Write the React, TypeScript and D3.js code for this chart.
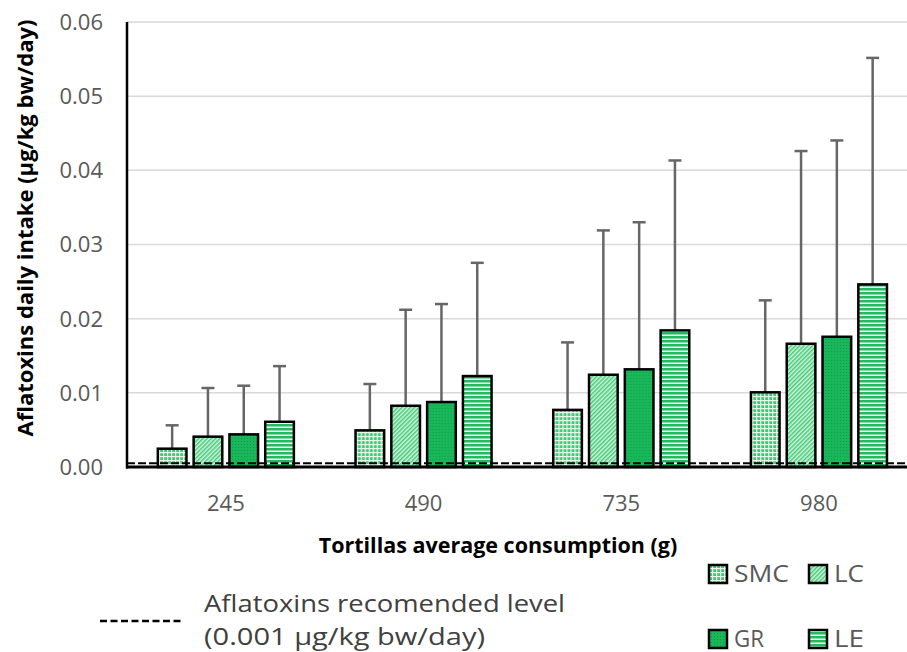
import * as d3 from 'd3';

const categories = ['245', '490', '735', '980'];
const seriesNames = ['SMC', 'LC', 'GR', 'LE'];

// mean intake per consumption level
const smc = [0.00247, 0.00494, 0.0077, 0.01007];
const lc = [0.00409, 0.00826, 0.01244, 0.01662];
const gr = [0.0044, 0.00876, 0.01317, 0.01756];
const le = [0.0061, 0.01226, 0.01842, 0.02462];

// upper error (plus) values
const smcErr = [0.00315, 0.00625, 0.0091, 0.0124];
const lcErr = [0.00656, 0.01294, 0.01946, 0.02598];
const grErr = [0.00656, 0.01321, 0.01983, 0.02647];
const leErr = [0.0075, 0.01527, 0.02291, 0.03054];

const yTicks = [0, 0.01, 0.02, 0.03, 0.04, 0.05, 0.06];
const limitLine = 0.0005;

const W = 907;
const H = 652;
const margin = { left: 127, top: 22, bottom: 467 };

const values = [smc, lc, gr, le];
const errors = [smcErr, lcErr, grErr, leErr];
const patternIds = ['pSMC', 'pLC', 'pGR', 'pLE'];

const font = "'Open Sans', sans-serif";

export default function App() {
  const x = d3.scaleBand().domain(categories).range([margin.left, margin.left + 4 * 197.7]);
  const inner = d3
    .scaleBand()
    .domain(seriesNames)
    .range([(x.bandwidth() - 143.2) / 2, (x.bandwidth() + 143.2) / 2])
    .paddingInner(0.2)
    .paddingOuter(0.1);
  const y = d3.scaleLinear().domain([0, 0.06]).range([margin.bottom, margin.top]);

  const fmt = d3.format('.2f');

  return (
    <svg width={W} height={H} style={{ position: 'absolute', left: 0, top: 0, background: '#fff' }}>
      <defs>
        <pattern id="pSMC" width="4" height="4" patternUnits="userSpaceOnUse">
          <rect width="4" height="4" fill="#3ec873" />
          <rect width="4" height="1.2" fill="#e8f9ee" />
          <rect width="1.2" height="4" fill="#e8f9ee" />
        </pattern>
        <pattern id="pLC" width="3" height="3" patternUnits="userSpaceOnUse" patternTransform="rotate(45)">
          <rect width="3" height="3" fill="#d3f4df" />
          <rect width="1.5" height="3" fill="#45ca78" />
        </pattern>
        <pattern id="pGR" width="3" height="3" patternUnits="userSpaceOnUse">
          <rect width="3" height="3" fill="#19b759" />
          <rect width="1" height="1" fill="#0f9d49" />
        </pattern>
        <pattern id="pLE" width="4" height="4" patternUnits="userSpaceOnUse">
          <rect width="4" height="4" fill="#22bb5e" />
          <rect y="2.5" width="4" height="1.5" fill="#f2fcf5" />
        </pattern>
      </defs>

      {/* gridlines */}
      {yTicks.slice(1).map((t) => (
        <line key={t} x1={margin.left} x2={W} y1={y(t)} y2={y(t)} stroke="#d9d9d9" strokeWidth={1.5} />
      ))}

      {/* y tick labels */}
      {yTicks.map((t) => (
        <text
          key={t}
          x={103}
          y={y(t)}
          dy="0.36em"
          textAnchor="end"
          fontFamily={font}
          fontSize={22}
          fill="#595959"
        >
          {fmt(t)}
        </text>
      ))}

      {/* bars and error bars */}
      {categories.map((c, ci) => (
        <g key={c} transform={`translate(${x(c)},0)`}>
          {seriesNames.map((s, si) => {
            const v = values[si][ci];
            const e = errors[si][ci];
            const bx = inner(s)!;
            const cx = bx + inner.bandwidth() / 2;
            return (
              <g key={s}>
                <line x1={cx} x2={cx} y1={y(v)} y2={y(v + e)} stroke="#666" strokeWidth={2.5} />
                <line x1={cx - 6.5} x2={cx + 6.5} y1={y(v + e)} y2={y(v + e)} stroke="#666" strokeWidth={2.5} />
                <rect
                  x={bx}
                  y={y(v)}
                  width={inner.bandwidth()}
                  height={y(0) - y(v)}
                  fill={`url(#${patternIds[si]})`}
                  stroke="#000"
                  strokeWidth={2.5}
                />
              </g>
            );
          })}
        </g>
      ))}

      {/* recommended level */}
      <line
        x1={margin.left}
        x2={W}
        y1={y(limitLine)}
        y2={y(limitLine)}
        stroke="#000"
        strokeWidth={2}
        strokeDasharray="8 3"
      />

      {/* axes */}
      <line x1={margin.left} x2={margin.left} y1={margin.top} y2={margin.bottom + 1.5} stroke="#000" strokeWidth={2.5} />
      <line x1={margin.left - 1} x2={W} y1={margin.bottom} y2={margin.bottom} stroke="#000" strokeWidth={3} />

      {/* x tick labels */}
      {categories.map((c) => (
        <text
          key={c}
          x={x(c)! + x.bandwidth() / 2}
          y={511}
          textAnchor="middle"
          fontFamily={font}
          fontSize={22}
          fill="#595959"
        >
          {c}
        </text>
      ))}

      {/* axis titles */}
      <text x={498} y={553} textAnchor="middle" fontFamily={font} fontWeight="bold" fontSize={21.5} fill="#000">
        Tortillas average consumption (g)
      </text>
      <text
        transform={`translate(33,${228}) rotate(-90)`}
        textAnchor="middle"
        fontFamily={font}
        fontWeight="bold"
        fontSize={22}
        fill="#000"
      >
        Aflatoxins daily intake (µg/kg bw/day)
      </text>

      {/* legend */}
      {seriesNames.map((s, si) => {
        const lx = si % 2 === 0 ? 709 : 809;
        const ly = si < 2 ? 565 : 630;
        return (
          <g key={s}>
            <rect x={lx} y={ly} width={18} height={18} fill={`url(#${patternIds[si]})`} stroke="#000" strokeWidth={2.5} />
            <text x={lx + 25} y={ly + 17} fontFamily={font} fontSize={23} textLength={s.length > 2 ? 55 : 30} lengthAdjust="spacingAndGlyphs" fill="#595959">
              {s}
            </text>
          </g>
        );
      })}
      <line x1={100} x2={183} y1={621} y2={621} stroke="#000" strokeWidth={2.5} strokeDasharray="7 3.5" />
      <text x={204} y={612} fontFamily={font} fontSize={23.5} textLength={361} lengthAdjust="spacingAndGlyphs" fill="#404040">
        Aflatoxins recomended level
      </text>
      <text x={204} y={645} fontFamily={font} fontSize={23.5} textLength={281} lengthAdjust="spacingAndGlyphs" fill="#404040">
        (0.001 µg/kg bw/day)
      </text>
    </svg>
  );
}
